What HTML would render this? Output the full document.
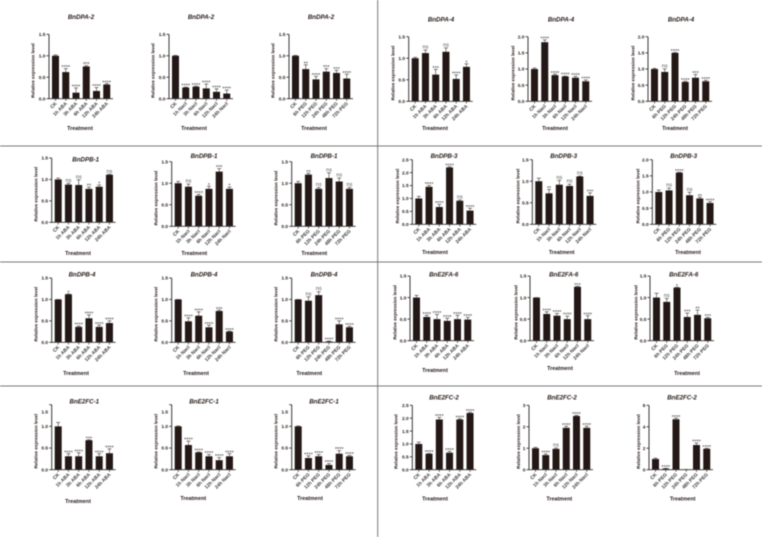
<!DOCTYPE html>
<html lang="en">
<head>
<meta charset="utf-8">
<title>Relative expression levels under ABA, NaCl and PEG treatment</title>
<style>
  html, body { margin: 0; padding: 0; background: #fff; }
  #figure { display: block; width: 764px; height: 537px; filter: blur(0.4px); }
  text { font-family: "Liberation Sans", Arial, sans-serif; fill: #231815; }
</style>
</head>
<body>
<svg id="figure" xmlns="http://www.w3.org/2000/svg" width="764" height="537" viewBox="0 0 764 537">
  <rect x="0" y="0" width="764" height="537" fill="#ffffff"/>
  <g stroke="#777777" stroke-width="1">
    <line x1="377.7" y1="0" x2="377.7" y2="537"/>
    <line x1="0" y1="146" x2="762" y2="146"/>
    <line x1="0" y1="262" x2="762" y2="262"/>
    <line x1="0" y1="386" x2="762" y2="386"/>
  </g>
  <g id="charts"></g>
</svg>
<script>
const categoriesAba = ['CK','1h ABA','3h ABA','6h ABA','12h ABA','24h ABA'];
const categoriesNacl = ['CK','1h Nacl','3h Nacl','6h Nacl','12h Nacl','24h Nacl'];
const categoriesPeg = ['CK','6h PEG','12h PEG','24h PEG','48h PEG','72h PEG'];

const ticks15 = ['0.0','0.5','1.0','1.5'];
const ticks20 = ['0.0','0.5','1.0','1.5','2.0'];
const ticks25 = ['0.0','0.5','1.0','1.5','2.0','2.5'];
const ticks3 = ['0','1','2','3'];
const ticks6 = ['0','2','4','6'];

const dpa2AbaValues = [1,0.62,0.14,0.75,0.18,0.33];
const dpa2AbaErrors = [0.02,0.08,0.11,0.02,0.08,0.02];
const dpa2AbaSig = ['','****','****','***','****','****'];
const dpa2NaclValues = [1,0.26,0.28,0.24,0.16,0.12];
const dpa2NaclErrors = [0.01,0.01,0.01,0.1,0.07,0.08];
const dpa2NaclSig = ['','****','****','****','****','****'];
const dpa2PegValues = [1,0.69,0.45,0.63,0.6,0.47];
const dpa2PegErrors = [0.01,0.1,0.07,0.07,0.06,0.1];
const dpa2PegSig = ['','**','****','***','***','****'];

const dpa4AbaValues = [1,1.12,0.62,1.15,0.52,0.8];
const dpa4AbaErrors = [0.02,0.07,0.12,0.09,0.09,0.07];
const dpa4AbaSig = ['','ns','***','ns','****','*'];
const dpa4NaclValues = [1,1.83,0.81,0.77,0.73,0.62];
const dpa4NaclErrors = [0.03,0.07,0.03,0.01,0.04,0.04];
const dpa4NaclSig = ['','****','****','****','****','****'];
const dpa4PegValues = [1,0.91,1.5,0.6,0.73,0.62];
const dpa4PegErrors = [0.02,0.09,0.01,0.02,0.1,0.03];
const dpa4PegSig = ['','ns','****','****','***','****'];

const dpb1AbaValues = [1,0.88,0.87,0.78,0.83,1.11];
const dpb1AbaErrors = [0.03,0.03,0.12,0.04,0.04,0.01];
const dpb1AbaSig = ['','ns','ns','**','*','ns'];
const dpb1NaclValues = [1,0.92,0.71,0.87,1.27,0.87];
const dpb1NaclErrors = [0.04,0.06,0.03,0.06,0.07,0.04];
const dpb1NaclSig = ['','ns','****','*','***','*'];
const dpb1PegValues = [1,1.2,0.87,1.12,1.04,0.87];
const dpb1PegErrors = [0.04,0.03,0.03,0.12,0.08,0.03];
const dpb1PegSig = ['','**','ns','ns','ns','ns'];

const dpb3AbaValues = [1,1.45,0.67,2.2,0.91,0.53];
const dpb3AbaErrors = [0.08,0.05,0.1,0.03,0.03,0.09];
const dpb3AbaSig = ['','****','****','****','ns','****'];
const dpb3NaclValues = [1,0.72,0.92,0.89,1.11,0.66];
const dpb3NaclErrors = [0.07,0.09,0.1,0.04,0.01,0.07];
const dpb3NaclSig = ['','**','ns','ns','ns','***'];
const dpb3PegValues = [1,1.05,1.6,0.9,0.8,0.66];
const dpb3PegErrors = [0.06,0.07,0.01,0.09,0.04,0.04];
const dpb3PegSig = ['','ns','****','ns','**','****'];

const dpb4AbaValues = [1,1.12,0.36,0.56,0.36,0.45];
const dpb4AbaErrors = [0,0.01,0.02,0.08,0.04,0.05];
const dpb4AbaSig = ['','*','****','****','****','****'];
const dpb4NaclValues = [1,0.49,0.62,0.35,0.73,0.25];
const dpb4NaclErrors = [0,0.08,0.09,0.05,0.02,0.01];
const dpb4NaclSig = ['','****','****','****','***','****'];
const dpb4PegValues = [1,0.97,1.1,0.02,0.42,0.35];
const dpb4PegErrors = [0,0.09,0.08,0.01,0.08,0.02];
const dpb4PegSig = ['','ns','ns','****','****','****'];

const e2fa6AbaValues = [1,0.55,0.5,0.46,0.5,0.49];
const e2fa6AbaErrors = [0.05,0.04,0.11,0.06,0.09,0.05];
const e2fa6AbaSig = ['','****','****','****','****','****'];
const e2fa6NaclValues = [1,0.62,0.58,0.5,1.25,0.5];
const e2fa6NaclErrors = [0,0.05,0.05,0.07,0.01,0.08];
const e2fa6NaclSig = ['','****','****','****','***','****'];
const e2fa6PegValues = [1,0.9,1.23,0.55,0.6,0.52];
const e2fa6PegErrors = [0.1,0.08,0.01,0.09,0.11,0.02];
const e2fa6PegSig = ['','ns','*','***','**','***'];

const e2fc1AbaValues = [1,0.31,0.31,0.68,0.31,0.38];
const e2fc1AbaErrors = [0.09,0.06,0.08,0.01,0.06,0.1];
const e2fc1AbaSig = ['','****','****','***','****','****'];
const e2fc1NaclValues = [1,0.57,0.4,0.31,0.22,0.31];
const e2fc1NaclErrors = [0.01,0.09,0.01,0.04,0.06,0.06];
const e2fc1NaclSig = ['','****','****','****','****','****'];
const e2fc1PegValues = [1,0.27,0.31,0.11,0.37,0.31];
const e2fc1PegErrors = [0.01,0.05,0.04,0.03,0.07,0.02];
const e2fc1PegSig = ['','****','****','****','****','****'];

const e2fc2AbaValues = [1,0.62,1.95,0.66,1.95,2.2];
const e2fc2AbaErrors = [0.07,0.01,0.08,0.05,0.03,0.03];
const e2fc2AbaSig = ['','****','****','****','****','****'];
const e2fc2NaclValues = [1,0.68,0.97,1.95,2.5,1.95];
const e2fc2NaclErrors = [0.04,0.05,0.04,0.07,0.03,0.07];
const e2fc2NaclSig = ['','****','ns','****','****','****'];
const e2fc2PegValues = [1,0.1,4.7,0.02,2.3,1.95];
const e2fc2PegErrors = [0.08,0.03,0.1,0,0.18,0.04];
const e2fc2PegSig = ['','****','****','','****','****'];

/* Panel layout: data references plus placement of each panel on the sheet */
const panels = [
  {gene:'BnDPA-2',cats:categoriesAba,vals:dpa2AbaValues,errs:dpa2AbaErrors,sig:dpa2AbaSig,ticks:ticks15,ax:49,y0:98.7,top:34.3,tx:81,ty:17,trx:80,try_:128,ylx:33},
  {gene:'BnDPA-2',cats:categoriesNacl,vals:dpa2NaclValues,errs:dpa2NaclErrors,sig:dpa2NaclSig,ticks:ticks15,ax:169,y0:98.7,top:34.3,tx:201,ty:17,trx:194,try_:128,ylx:153},
  {gene:'BnDPA-2',cats:categoriesPeg,vals:dpa2PegValues,errs:dpa2PegErrors,sig:dpa2PegSig,ticks:ticks15,ax:289,y0:98.7,top:34.3,tx:321,ty:17,trx:314,try_:128,ylx:273},
  {gene:'BnDPA-4',cats:categoriesAba,vals:dpa4AbaValues,errs:dpa4AbaErrors,sig:dpa4AbaSig,ticks:ticks15,ax:408.7,y0:101.3,top:36.7,tx:441,ty:19.7,trx:435,try_:128,ylx:393},
  {gene:'BnDPA-4',cats:categoriesNacl,vals:dpa4NaclValues,errs:dpa4NaclErrors,sig:dpa4NaclSig,ticks:ticks20,ax:528,y0:101.3,top:36.7,tx:561,ty:19.7,trx:555,try_:128,ylx:513},
  {gene:'BnDPA-4',cats:categoriesPeg,vals:dpa4PegValues,errs:dpa4PegErrors,sig:dpa4PegSig,ticks:ticks20,ax:648,y0:101.3,top:36.7,tx:681,ty:19.7,trx:675,try_:128,ylx:633},

  {gene:'BnDPB-1',cats:categoriesAba,vals:dpb1AbaValues,errs:dpb1AbaErrors,sig:dpb1AbaSig,ticks:ticks15,ax:51.7,y0:222.3,top:158,tx:85.7,ty:159.3,trx:78,try_:253.3,ylx:35.7},
  {gene:'BnDPB-1',cats:categoriesNacl,vals:dpb1NaclValues,errs:dpb1NaclErrors,sig:dpb1NaclSig,ticks:ticks15,ax:171.7,y0:226.3,top:161.7,tx:204,ty:156,trx:194.3,try_:253.3,ylx:155.7},
  {gene:'BnDPB-1',cats:categoriesPeg,vals:dpb1PegValues,errs:dpb1PegErrors,sig:dpb1PegSig,ticks:ticks15,ax:291.7,y0:226.3,top:161.7,tx:324,ty:156,trx:314.3,try_:253.3,ylx:275.7},
  {gene:'BnDPB-3',cats:categoriesAba,vals:dpb3AbaValues,errs:dpb3AbaErrors,sig:dpb3AbaSig,ticks:ticks25,ax:412.3,y0:224.3,top:159.7,tx:444,ty:156,trx:435,try_:252,ylx:397.3},
  {gene:'BnDPB-3',cats:categoriesNacl,vals:dpb3NaclValues,errs:dpb3NaclErrors,sig:dpb3NaclSig,ticks:ticks15,ax:532.3,y0:224.3,top:159.7,tx:563.7,ty:156,trx:561.7,try_:252,ylx:517.7},
  {gene:'BnDPB-3',cats:categoriesPeg,vals:dpb3PegValues,errs:dpb3PegErrors,sig:dpb3PegSig,ticks:ticks20,ax:652.3,y0:224.3,top:159.7,tx:683.7,ty:156,trx:688,try_:252,ylx:637.7},

  {gene:'BnDPB-4',cats:categoriesAba,vals:dpb4AbaValues,errs:dpb4AbaErrors,sig:dpb4AbaSig,ticks:ticks15,ax:51.7,y0:342.3,top:278,tx:82,ty:274.3,trx:76,try_:373,ylx:35.7},
  {gene:'BnDPB-4',cats:categoriesNacl,vals:dpb4NaclValues,errs:dpb4NaclErrors,sig:dpb4NaclSig,ticks:ticks15,ax:171.7,y0:342.3,top:278,tx:204,ty:274.3,trx:196,try_:373,ylx:155.7},
  {gene:'BnDPB-4',cats:categoriesPeg,vals:dpb4PegValues,errs:dpb4PegErrors,sig:dpb4PegSig,ticks:ticks15,ax:291.7,y0:342.3,top:278,tx:324,ty:274.3,trx:309.3,try_:373,ylx:275.7},
  {gene:'BnE2FA-6',cats:categoriesAba,vals:e2fa6AbaValues,errs:e2fa6AbaErrors,sig:e2fa6AbaSig,ticks:ticks15,ax:410,y0:340.7,top:276,tx:443.7,ty:274.3,trx:435,try_:370.3,ylx:395},
  {gene:'BnE2FA-6',cats:categoriesNacl,vals:e2fa6NaclValues,errs:e2fa6NaclErrors,sig:e2fa6NaclSig,ticks:ticks15,ax:530,y0:340.7,top:276,tx:563.7,ty:274.3,trx:560,try_:368.3,ylx:515.7},
  {gene:'BnE2FA-6',cats:categoriesPeg,vals:e2fa6PegValues,errs:e2fa6PegErrors,sig:e2fa6PegSig,ticks:ticks15,ax:650,y0:340.7,top:276,tx:683.7,ty:274.3,trx:687,try_:373.3,ylx:635.7},

  {gene:'BnE2FC-1',cats:categoriesAba,vals:e2fc1AbaValues,errs:e2fc1AbaErrors,sig:e2fc1AbaSig,ticks:ticks15,ax:51.7,y0:469.7,top:404.7,tx:84.3,ty:401.7,trx:78,try_:501,ylx:35.7,topShift:7.3},
  {gene:'BnE2FC-1',cats:categoriesNacl,vals:e2fc1NaclValues,errs:e2fc1NaclErrors,sig:e2fc1NaclSig,ticks:ticks15,ax:171.7,y0:469.7,top:404.7,tx:204,ty:401.7,trx:193.3,try_:498.3,ylx:155.7,topShift:7.3},
  {gene:'BnE2FC-1',cats:categoriesPeg,vals:e2fc1PegValues,errs:e2fc1PegErrors,sig:e2fc1PegSig,ticks:ticks15,ax:291.7,y0:469.7,top:404.7,tx:324,ty:401.7,trx:310,try_:498.3,ylx:275.7,topShift:7.3},
  {gene:'BnE2FC-2',cats:categoriesAba,vals:e2fc2AbaValues,errs:e2fc2AbaErrors,sig:e2fc2AbaSig,ticks:ticks25,ax:412.3,y0:469.7,top:405.3,tx:444,ty:397.3,trx:435,try_:498.7,ylx:396},
  {gene:'BnE2FC-2',cats:categoriesNacl,vals:e2fc2NaclValues,errs:e2fc2NaclErrors,sig:e2fc2NaclSig,ticks:ticks3,ax:529,y0:469.7,top:405.3,tx:562,ty:397.3,trx:559.3,try_:498.7,ylx:518.3},
  {gene:'BnE2FC-2',cats:categoriesPeg,vals:e2fc2PegValues,errs:e2fc2PegErrors,sig:e2fc2PegSig,ticks:ticks6,ax:649,y0:469.7,top:405.3,tx:682,ty:397.3,trx:682.7,try_:498.7,ylx:638.3}
];

const SVG_NS = 'http://www.w3.org/2000/svg';
const INK = '#231815';
const root = document.getElementById('charts');

function shape(parent, tag, attrs, content) {
  const el = document.createElementNS(SVG_NS, tag);
  for (const k in attrs) el.setAttribute(k, attrs[k]);
  if (content !== undefined) el.textContent = content;
  parent.appendChild(el);
  return el;
}

function drawPanel(p, index) {
  const yMax = parseFloat(p.ticks[p.ticks.length - 1]);
  const yScale = v => p.y0 - (v / yMax) * (p.y0 - p.top);
  const xScale = i => p.ax + 6.5 + i * 10.25;
  const xEnd = p.ax + 64;

  const g = shape(root, 'g', {});
  
  

  const title = shape(g, 'text', {x: p.tx, y: p.ty + 2, 'text-anchor': 'middle', 'font-size': 6.2, 'font-weight': 'bold', 'font-style': 'italic'}, p.gene);
  
  

  const yMid = (p.y0 + p.top) / 2 + 4;
  const yTitle = shape(g, 'text', {x: p.ylx + 1.6, y: yMid, 'text-anchor': 'middle', 'font-size': 4.6, 'font-weight': 'bold', transform: 'rotate(-90 ' + (p.ylx + 1.6) + ' ' + yMid + ')'}, 'Relative expression level');
  
  

  const xTitle = shape(g, 'text', {x: p.trx, y: p.try_ + 1.8, 'text-anchor': 'middle', 'font-size': 5.4, 'font-weight': 'bold'}, 'Treatment');
  
  

  p.vals.forEach((v, i) => {
    const cx = xScale(i);
    const yTop = yScale(v);
    const bar = shape(g, 'rect', {x: cx - 3.5, y: yTop, width: 7, height: Math.max(p.y0 - yTop, 0), fill: INK});
    
    

    const yErr = yScale(v + p.errs[i]);
    const stem = shape(g, 'line', {x1: cx, x2: cx, y1: yTop, y2: yErr, stroke: '#3a3230', 'stroke-width': 0.6});
    
    
    const cap = shape(g, 'line', {x1: cx - 2, x2: cx + 2, y1: yErr, y2: yErr, stroke: '#3a3230', 'stroke-width': 0.6});
    
    

    const s = p.sig[i];
    if (s) {
      const isNs = s === 'ns';
      const mark = shape(g, 'text', {x: cx, y: isNs ? yErr - 1.5 : yErr + 0.6, 'text-anchor': 'middle', 'font-size': isNs ? 5.6 : 5.6, 'font-weight': 'normal', style: 'fill:' + (isNs ? '#555555' : '#444444')}, s);
      
      
    }

    const tick = shape(g, 'line', {x1: cx, x2: cx, y1: p.y0, y2: p.y0 + 2.2, stroke: '#333', 'stroke-width': 0.7});
    
    

    const lx = cx + 1.6;
    const ly = p.y0 + 5.2;
    const label = shape(g, 'text', {x: lx, y: ly, 'text-anchor': 'end', 'font-size': 4.9, 'font-weight': 'bold', style: 'fill:#3a3a3a', transform: 'rotate(-45 ' + lx + ' ' + ly + ')'}, p.cats[i]);
    
    
  });

  const xAxis = shape(g, 'line', {x1: p.ax - 0.4, x2: xEnd, y1: p.y0, y2: p.y0, stroke: '#333', 'stroke-width': 0.9});
  
  
  const yAxis = shape(g, 'line', {x1: p.ax, x2: p.ax, y1: p.top, y2: p.y0, stroke: '#222', 'stroke-width': 0.9});
  
  

  p.ticks.forEach((t, i) => {
    const ty = yScale(parseFloat(t));
    const tick = shape(g, 'line', {x1: p.ax - 2.5, x2: p.ax, y1: ty, y2: ty, stroke: '#222', 'stroke-width': 0.8});
    
    
    const shift = (i === p.ticks.length - 1 && p.topShift) ? p.topShift : 0;
    const label = shape(g, 'text', {x: p.ax - 3.6, y: ty + 1.7 + shift, 'text-anchor': 'end', 'font-size': 4.8, 'font-weight': 'bold'}, t);
    
    
  });
}

panels.forEach(drawPanel);
</script>
</body>
</html>
